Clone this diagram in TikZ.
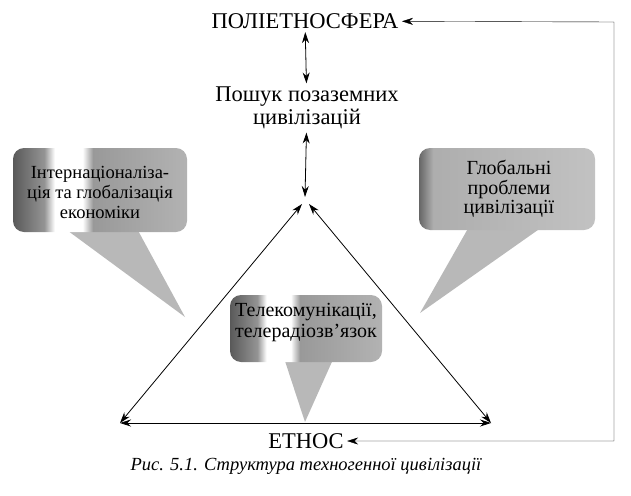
\documentclass[tikz,border=0pt]{standalone}
\usepackage{fontspec}
\setmainfont{Liberation Serif}
\usetikzlibrary{arrows.meta}
% the path fills 25bp--75bp of the shading
\pgfdeclarehorizontalshading{glass}{100bp}{color(0bp)=(black!65); color(25bp)=(black!65); color(34bp)=(black!42); color(37bp)=(white); color(45bp)=(white); color(48bp)=(black!40); color(75bp)=(black!30); color(100bp)=(black!30)}
\pgfdeclarehorizontalshading{glassb}{100bp}{color(0bp)=(black!60); color(25bp)=(black!60); color(29bp)=(black!32); color(75bp)=(black!24); color(100bp)=(black!24)}
\tikzset{
  arr/.style={thick,{Stealth[length=11pt,width=7pt]}-{Stealth[length=11pt,width=7pt]}},
  bubble/.style={shading=glass,rounded corners=11pt},
  tip/.style={fill=black!28},
  btxt/.style={align=center,font=\fontsize{18.5}{20}\selectfont}
}
\begin{document}
\begin{tikzpicture}[x=1pt,y=-1pt]
\useasboundingbox (0,0) rectangle (631,495);
\coordinate (top) at (305,197);
\coordinate (topl) at (302,204);
\coordinate (topr) at (309,204);
\coordinate (bl) at (120,423);
\coordinate (br) at (491,423);
\coordinate (rt) at (614,22);
% bubbles
\fill[tip] (60,225) -- (135,225) -- (185,317) -- cycle;
\path[bubble] (13,148) rectangle (187,232);
\node[btxt] (intl) at (100,192) {Інтернаціоналіза-\\ція та глобалізація\\економіки};
\fill[tip] (470,225) -- (545,225) -- (420,313) -- cycle;
\path[bubble,shading=glassb] (419,148) rectangle (595,230);
\node[btxt,font=\fontsize{20}{19.5}\selectfont] (glob) at (509,189) {Глобальні\\проблеми\\цивілізації};
\fill[tip] (283,355) -- (335,355) -- (305,422) -- cycle;
\path[bubble] (230,295) rectangle (382,362);
\node[btxt,font=\fontsize{20}{21}\selectfont] (tele) at (306,323) {Телекомунікації,\\телерадіозв’язок};
% texts
\node[font=\fontsize{22.5}{24}\selectfont] (pol) at (305,21) {ПОЛІЕТНОСФЕРА};
\node[align=center,font=\fontsize{22.5}{23}\selectfont] (posh) at (307,108) {Пошук позаземних\\цивілізацій};
\node[font=\fontsize{22.5}{24}\selectfont] (eth) at (306,441) {ЕТНОС};
\node[font=\itshape\fontsize{18.5}{20}\selectfont] (cap) at (306,466) {Рис. 5.1. Структура техногенної цивілізації};
% arrows
\draw[arr] (pol) -- (posh);
\draw[arr] (posh) -- (top);
\draw[arr] (topl) -- (bl);
\draw[arr] (topr) -- (br);
\draw[arr] (bl) -- (br);
\draw[{Stealth[length=11pt,width=7pt]}-{Stealth[length=11pt,width=7pt]}] (eth) -| (rt) -- (pol);
\end{tikzpicture}
\end{document}
